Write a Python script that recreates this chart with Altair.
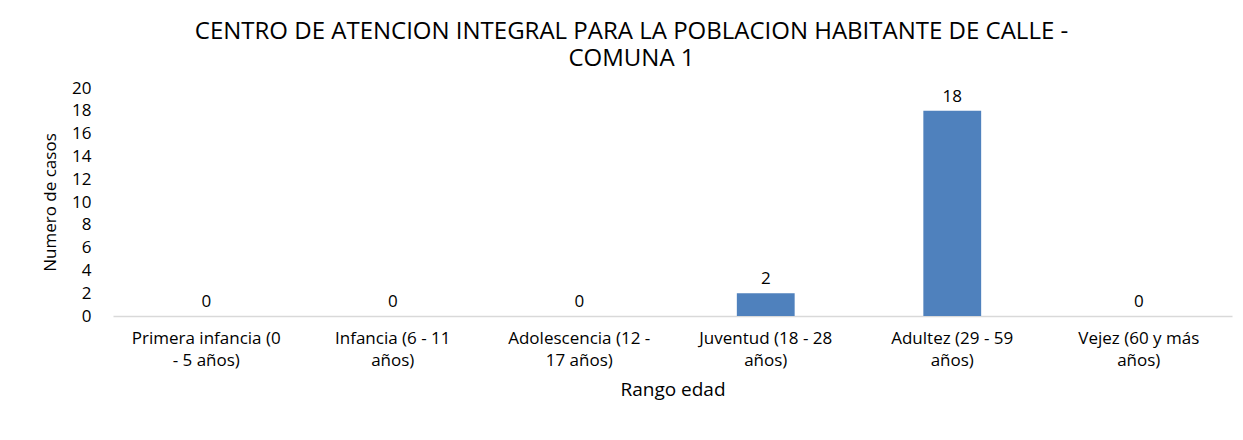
import altair as alt
import pandas as pd

label_lines = [
    ["Primera infancia (0", "- 5 años)"],
    ["Infancia (6 - 11", "años)"],
    ["Adolescencia (12 -", "17 años)"],
    ["Juventud (18 - 28", "años)"],
    ["Adultez (29 - 59", "años)"],
    ["Vejez (60 y más", "años)"],
]
categories = [" ".join(l) for l in label_lines]
casos = [0, 0, 0, 2, 18, 0]
y_ticks = list(range(0, 21, 2))

title_lines = ["CENTRO DE ATENCION INTEGRAL PARA LA POBLACION HABITANTE DE CALLE -", "COMUNA 1"]

FONT = "Open Sans"
BLUE = "#4F81BD"
GRAY = "#D9D9D9"

df = pd.DataFrame({"rango": categories, "casos": casos})

label_expr = ""
for cat, lines in zip(categories, label_lines):
    label_expr += "datum.label == '%s' ? ['%s', '%s'] : " % (cat, lines[0], lines[1])
label_expr += "datum.label"

x_axis = alt.Axis(
    title="Rango edad",
    titleFont=FONT, titleFontSize=19, titleFontWeight="normal", titleColor="#000000",
    titlePadding=12,
    labelFont=FONT, labelFontSize=17, labelColor="#000000", labelAngle=0,
    labelPadding=14, labelLineHeight=22, labelExpr=label_expr,
    ticks=False, domainColor=GRAY, domainWidth=1.5, grid=False, labelLimit=300,
)
y_axis = alt.Axis(
    title="Numero de casos", values=y_ticks, tickCount=11,
    titleFont=FONT, titleFontSize=17, titleFontWeight="normal", titleColor="#000000",
    titlePadding=12,
    labelFont=FONT, labelFontSize=17, labelColor="#000000", labelPadding=22,
    labelOverlap=False, labelSeparation=0, labelBound=False,
    ticks=False, domain=False, grid=False,
)

x_scale = alt.Scale(paddingInner=0.69, paddingOuter=0.345)
y_scale = alt.Scale(domain=[0, 20])

bars = alt.Chart(df).mark_bar(color=BLUE).encode(
    x=alt.X("rango:N", sort=categories, scale=x_scale, axis=x_axis),
    y=alt.Y("casos:Q", scale=y_scale, axis=y_axis),
)
texts = alt.Chart(df).mark_text(
    dy=-14, font=FONT, fontSize=17, color="#000000"
).encode(
    x=alt.X("rango:N", sort=categories, scale=x_scale, axis=x_axis),
    y=alt.Y("casos:Q", scale=y_scale, axis=y_axis),
    text="casos:Q",
)

chart = alt.layer(bars, texts).properties(
    width=1119,
    height=228,
    title=alt.TitleParams(
        text=title_lines, font=FONT, fontSize=24, fontWeight="normal",
        color="#000000", anchor="middle", lineHeight=27, dx=-41, offset=8,
    ),
    autosize=alt.AutoSizeParams(type="none"),
    padding={"left": 105, "top": 80, "right": 3, "bottom": 118},
).configure(background="white").configure_view(strokeWidth=0).configure_axisY(labelOverlap=False)

chart.save("out.html", embed_options={"renderer": "svg", "actions": False})
